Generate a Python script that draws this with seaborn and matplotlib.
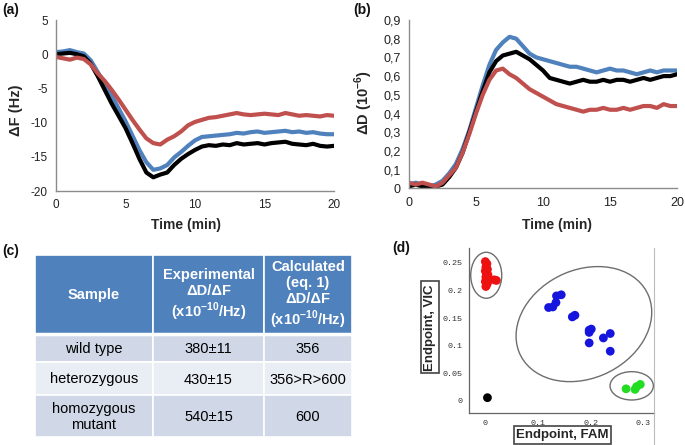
import matplotlib
matplotlib.use("Agg")
import matplotlib.pyplot as plt
import numpy as np
import pandas as pd
import seaborn as sns
from matplotlib.patches import Rectangle, Ellipse
from matplotlib.lines import Line2D
from matplotlib.ticker import MultipleLocator

# ---------------- data ----------------
time_min = [0, 0.5, 1, 1.5, 2, 2.5, 3, 3.5, 4, 4.5, 5, 5.5, 6, 6.5, 7, 7.5, 8, 8.5, 9, 9.5,
            10, 10.5, 11, 11.5, 12, 12.5, 13, 13.5, 14, 14.5, 15, 15.5, 16, 16.5, 17, 17.5,
            18, 18.5, 19, 19.5, 20]

dF_blue = [0.3, 0.4, 0.6, 0.3, 0.1, -0.9, -2.6, -4.3, -6.0, -7.9, -9.8, -11.9, -14.0, -15.8,
           -16.9, -16.7, -16.2, -15.1, -14.3, -13.4, -12.6, -12.1, -12.0, -11.9, -11.8, -11.7,
           -11.5, -11.6, -11.4, -11.3, -11.5, -11.4, -11.3, -11.2, -11.4, -11.3, -11.5, -11.4,
           -11.6, -11.7, -11.7]
dF_black = [0.0, 0.1, 0.2, 0.0, -0.3, -1.4, -3.2, -5.2, -7.2, -9.0, -10.8, -13.0, -15.3, -17.3,
            -18.0, -17.6, -17.3, -16.2, -15.3, -14.6, -14.0, -13.5, -13.3, -13.4, -13.2, -13.3,
            -13.0, -13.2, -13.1, -13.0, -13.2, -13.0, -12.9, -12.8, -13.1, -13.2, -13.3, -13.1,
            -13.4, -13.5, -13.4]
dF_red = [-0.4, -0.6, -0.8, -0.5, -0.7, -1.5, -2.8, -3.9, -5.2, -6.6, -8.1, -9.6, -11.0, -12.3,
          -13.0, -13.2, -12.5, -12.0, -11.3, -10.4, -9.9, -9.6, -9.3, -9.2, -9.0, -8.8, -8.6,
          -8.8, -8.9, -8.8, -8.7, -8.8, -8.9, -8.6, -8.8, -9.0, -8.9, -9.0, -9.1, -8.9, -9.0]

dD_blue = [0.02, 0.03, 0.02, 0.01, 0.02, 0.04, 0.08, 0.13, 0.21, 0.31, 0.43, 0.55, 0.66, 0.74,
           0.78, 0.81, 0.80, 0.76, 0.72, 0.70, 0.69, 0.68, 0.67, 0.66, 0.65, 0.65, 0.64, 0.63,
           0.62, 0.63, 0.64, 0.63, 0.63, 0.62, 0.61, 0.62, 0.63, 0.62, 0.63, 0.63, 0.63]
dD_black = [0.01, 0.02, 0.01, 0.0, 0.01, 0.02, 0.06, 0.11, 0.19, 0.30, 0.41, 0.52, 0.62, 0.68,
            0.71, 0.72, 0.73, 0.71, 0.69, 0.66, 0.63, 0.59, 0.58, 0.57, 0.56, 0.57, 0.58, 0.57,
            0.57, 0.58, 0.57, 0.58, 0.58, 0.57, 0.58, 0.59, 0.58, 0.59, 0.60, 0.60, 0.61]
dD_red = [0.03, 0.02, 0.03, 0.02, 0.01, 0.03, 0.07, 0.11, 0.19, 0.29, 0.40, 0.50, 0.58, 0.63,
          0.64, 0.61, 0.59, 0.56, 0.53, 0.51, 0.49, 0.47, 0.45, 0.44, 0.43, 0.42, 0.41, 0.42,
          0.42, 0.43, 0.42, 0.42, 0.43, 0.42, 0.43, 0.44, 0.44, 0.43, 0.45, 0.44, 0.44]

series_names = ["blue", "black", "red"]
series_colors = {"blue": "#4F81BD", "black": "#000000", "red": "#C0504D"}

a_yticks = [5, 0, -5, -10, -15, -20]
b_yticks = [0, 0.1, 0.2, 0.3, 0.4, 0.5, 0.6, 0.7, 0.8, 0.9]
b_yticklabels = ["0", "0,1", "0,2", "0,3", "0,4", "0,5", "0,6", "0,7", "0,8", "0,9"]
time_ticks = [0, 5, 10, 15, 20]

# table (c)
table_header = ["Sample",
                "Experimental\nΔD/ΔF\n(x10$^{\\mathbf{-10}}$/Hz)",
                "Calculated\n(eq. 1)\nΔD/ΔF\n(x10$^{\\mathbf{-10}}$/Hz)"]
table_samples = ["wild type", "heterozygous", "homozygous\nmutant"]
table_experimental = ["380±11", "430±15", "540±15"]
table_calculated = ["356", "356>R>600", "600"]

# scatter (d)
red_fam = [0.000, 0.003, 0.001, 0.004, 0.000, 0.002, 0.005, 0.001, 0.003, 0.000, 0.004, 0.002,
           0.001, 0.017, 0.021]
red_vic = [0.252, 0.248, 0.242, 0.238, 0.235, 0.231, 0.228, 0.224, 0.220, 0.216, 0.213, 0.209,
           0.207, 0.219, 0.218]
blue_fam = [0.120, 0.128, 0.134, 0.135, 0.144, 0.165, 0.170, 0.197, 0.201, 0.197, 0.197, 0.224,
            0.237, 0.237]
blue_vic = [0.169, 0.170, 0.178, 0.190, 0.192, 0.152, 0.155, 0.128, 0.130, 0.124, 0.105, 0.114,
            0.122, 0.090]
green_fam = [0.267, 0.284, 0.287, 0.294]
green_vic = [0.022, 0.021, 0.026, 0.030]
black_fam = [0.004]
black_vic = [0.006]
cluster_colors = {"red": "#EE1111", "blue": "#1515DD", "green": "#22DD22", "black": "#000000"}
d_yticks = [0, 0.05, 0.1, 0.15, 0.2, 0.25]
d_yticklabels = ["0", "0.05", "0.1", "0.15", "0.2", "0.25"]
d_xticks = [0, 0.1, 0.2, 0.3]
d_xticklabels = ["0", "0.1", "0.2", "0.3"]
# cluster ellipses: center x, center y, width, height, angle
ell_cx = [0.0017, 0.187, 0.2777]
ell_cy = [0.2273, 0.139, 0.0274]
ell_w = [0.0588, 0.266, 0.0822]
ell_h = [0.0832, 0.197, 0.0512]
ell_ang = [0, 22, 0]

# ---------------- style ----------------
sns.set_style("white")
plt.rcParams["font.family"] = ["Liberation Sans", "DejaVu Sans"]
plt.rcParams["axes.unicode_minus"] = False
plt.rcParams["mathtext.fontset"] = "custom"
plt.rcParams["mathtext.rm"] = "Liberation Sans"
plt.rcParams["mathtext.bf"] = "Liberation Sans:bold"

W, H = 685, 445
fig = plt.figure(figsize=(W / 100, H / 100), dpi=100)
fig.patch.set_facecolor("white")


def px_axes(l, t, r, b):
    return fig.add_axes([l / W, 1 - b / H, (r - l) / W, (b - t) / H])


# overlay axes in pixel coords for labels and the table
ov = fig.add_axes([0, 0, 1, 1], zorder=-1)
ov.set_xlim(0, W)
ov.set_ylim(H, 0)
ov.axis("off")

grey = "#8C8C8C"

# ---------------- (a) ----------------
axA = px_axes(56, 20, 334, 191)
dfa = pd.DataFrame({
    "time": time_min * 3,
    "value": dF_blue + dF_black + dF_red,
    "series": ["blue"] * len(time_min) + ["black"] * len(time_min) + ["red"] * len(time_min),
})
sns.lineplot(data=dfa, x="time", y="value", hue="series", hue_order=series_names,
             palette=series_colors, linewidth=3.0, legend=False, estimator=None, sort=False,
             ax=axA)
axA.set_xlim(0, 20)
axA.set_ylim(-20, 5)
axA.set_xticks(time_ticks)
axA.set_yticks(a_yticks)
axA.set_yticklabels([str(v) for v in a_yticks])
sns.despine(ax=axA)
for s in ["left", "bottom"]:
    axA.spines[s].set_color(grey)
    axA.spines[s].set_linewidth(1.0)
axA.tick_params(direction="out", length=3, width=1, color=grey, labelsize=8.5,
                labelcolor="#222222", pad=3)
axA.set_xlabel("Time (min)", fontsize=10, fontweight="bold")
axA.set_ylabel("ΔF (Hz)", fontsize=10.5, fontweight="bold")
axA.xaxis.set_label_coords(0.468, -0.158)
axA.yaxis.set_label_coords(-0.117, 0.47)

# ---------------- (b) ----------------
axB = px_axes(409, 20, 677, 188.3)
dfb = pd.DataFrame({
    "time": time_min * 3,
    "value": dD_blue + dD_black + dD_red,
    "series": ["blue"] * len(time_min) + ["black"] * len(time_min) + ["red"] * len(time_min),
})
sns.lineplot(data=dfb, x="time", y="value", hue="series", hue_order=series_names,
             palette=series_colors, linewidth=3.0, legend=False, estimator=None, sort=False,
             ax=axB)
axB.set_xlim(0, 20)
axB.set_ylim(0, 0.9)
axB.set_xticks(time_ticks)
axB.set_yticks(b_yticks)
axB.set_yticklabels(b_yticklabels)
sns.despine(ax=axB)
for s in ["left", "bottom"]:
    axB.spines[s].set_color(grey)
    axB.spines[s].set_linewidth(1.0)
axB.tick_params(direction="out", length=3, width=1, color=grey, labelsize=9,
                labelcolor="#222222", pad=3)
axB.set_xlabel("Time (min)", fontsize=10, fontweight="bold")
axB.set_ylabel("ΔD (10$^{\\mathbf{-6}}$)", fontsize=10.5, fontweight="bold")
axB.xaxis.set_label_coords(0.551, -0.176)
axB.yaxis.set_label_coords(-0.127, 0.507)

# ---------------- (c) table ----------------
col_edges = [35, 153, 264, 352]
row_edges = [255, 334, 362, 395, 437]
header_color = "#4F81BD"
row_colors = ["#D0D8E8", "#E9EDF4", "#D0D8E8"]
body_cols = [table_samples, table_experimental, table_calculated]
for j in range(3):
    x0, x1 = col_edges[j], col_edges[j + 1]
    y0, y1 = row_edges[0], row_edges[1]
    ov.add_patch(Rectangle((x0, y0), x1 - x0, y1 - y0, facecolor=header_color,
                           edgecolor="white", linewidth=1.2))
    ov.text((x0 + x1) / 2, (y0 + y1) / 2 + 1, table_header[j], ha="center", va="center",
            color="white", fontsize=10.5, fontweight="bold", linespacing=1.15)
    for i in range(3):
        y0, y1 = row_edges[i + 1], row_edges[i + 2]
        ov.add_patch(Rectangle((x0, y0), x1 - x0, y1 - y0, facecolor=row_colors[i],
                               edgecolor="white", linewidth=1.2))
        ov.text((x0 + x1) / 2, (y0 + y1) / 2 + 1, body_cols[j][i], ha="center", va="center",
                color="black", fontsize=10.5, linespacing=1.1)
ov.plot([col_edges[0], col_edges[-1]], [row_edges[1], row_edges[1]], color="white", lw=2.5)

# ---------------- (d) scatter ----------------
axD = px_axes(469, 248, 654, 413)
dfd = pd.DataFrame({
    "fam": red_fam + blue_fam + green_fam + black_fam,
    "vic": red_vic + blue_vic + green_vic + black_vic,
    "cluster": ["red"] * len(red_fam) + ["blue"] * len(blue_fam)
               + ["green"] * len(green_fam) + ["black"] * len(black_fam),
})
sns.scatterplot(data=dfd, x="fam", y="vic", hue="cluster", palette=cluster_colors, s=40,
                linewidth=0, legend=False, ax=axD)
for cx, cy, w, h, ang in zip(ell_cx, ell_cy, ell_w, ell_h, ell_ang):
    axD.add_patch(Ellipse((cx, cy), w, h, angle=ang, fill=False, edgecolor="#6E6E6E", lw=1.0))
axD.set_xlim(-0.031, 0.320)
axD.set_ylim(-0.0217, 0.2766)
axD.set_xticks(d_xticks)
axD.set_xticklabels(d_xticklabels)
axD.set_yticks(d_yticks)
axD.set_yticklabels(d_yticklabels)
axD.xaxis.set_minor_locator(MultipleLocator(0.02))
axD.yaxis.set_minor_locator(MultipleLocator(0.05 / 3))
sns.despine(ax=axD)
for s in ["left", "bottom"]:
    axD.spines[s].set_color("#666666")
    axD.spines[s].set_linewidth(0.9)
axD.tick_params(which="major", direction="out", length=3, width=0.8, color="#666666",
                labelsize=6, labelcolor="#333333", pad=2)
axD.tick_params(which="minor", direction="out", length=1.5, width=0.6, color="#888888")
for lab in axD.get_xticklabels() + axD.get_yticklabels():
    lab.set_fontfamily(["Liberation Mono", "DejaVu Sans Mono"])
axD.set_xlabel("")
axD.set_ylabel("")
box = dict(boxstyle="square,pad=0.2", facecolor="white", edgecolor="#444444", linewidth=1.2)
axD.text(0.506, -0.133, "Endpoint, FAM", transform=axD.transAxes, ha="center", va="center",
         fontsize=9.5, fontweight="bold", bbox=box, clip_on=False)
axD.text(-0.211, 0.519, "Endpoint, VIC", transform=axD.transAxes, ha="center", va="center",
         rotation=90, fontsize=9.5, fontweight="bold", bbox=box, clip_on=False)
fig.add_artist(Line2D([654 / W, 654 / W], [1 - 248 / H, 0], color="#BBBBBB", lw=0.8))

# panel labels
for txt, x, y in [("(a)", 2, 10), ("(b)", 353, 10), ("(c)", 2, 251), ("(d)", 392, 248)]:
    ov.text(x, y, txt, ha="left", va="center", fontsize=10, fontweight="bold", color="#111111")

fig.savefig("out.png", dpi=100, facecolor="white")
